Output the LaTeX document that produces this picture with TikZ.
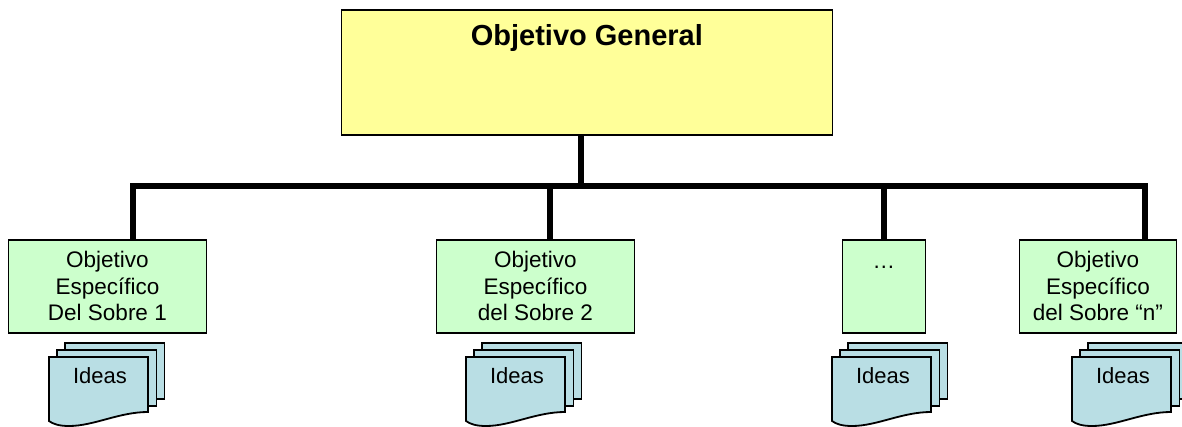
\documentclass[tikz,border=0pt]{standalone}
\usepackage{fontspec}
\setmainfont{Liberation Sans}
\definecolor{genyellow}{HTML}{FFFF99}
\definecolor{espgreen}{HTML}{CCFFCC}
\definecolor{ideablue}{HTML}{B9DEE4}
\tikzset{
  genbox/.style={draw,fill=genyellow,line width=1.8pt,anchor=north west,inner sep=0pt,
    minimum width=491pt,font=\fontsize{29}{32}\selectfont\bfseries,text height=36pt,text depth=89pt},
  espbox/.style={draw,fill=espgreen,line width=1.8pt,anchor=north west,inner sep=0pt,
    minimum height=93pt,align=center,font=\fontsize{22.5}{26.5}\selectfont},
  bus/.style={line width=6pt},
  sheet/.style={draw,fill=ideablue,line width=1.8pt},
  idea/.style={font=\fontsize{22}{26}\selectfont,inner sep=0pt}
}
\begin{document}
\begin{tikzpicture}[x=1pt,y=-1pt]
    \useasboundingbox (0,0) rectangle (1182,427);

    \node[genbox] (gen) at (340.5,9) {Objetivo General};

    \node[espbox,minimum width=198pt] (esp1) at (7.5,239) {Objetivo\\Específico\\Del Sobre 1};
    \node[espbox,minimum width=198pt] (esp2) at (435.5,239) {Objetivo\\Específico\\del Sobre 2};
    \node[espbox,minimum width=83pt,text height=29pt,text depth=64pt] (esp3) at (841.5,239) {…};
    \node[espbox,minimum width=157pt] (esp4) at (1018.5,239) {Objetivo\\Específico\\del Sobre “n”};

    % the bus
    \coordinate (busl) at (133,186);
    \coordinate (busr) at (1145,186);
    \coordinate (busg) at (581,186);
    \coordinate (bus2) at (550,186);
    \coordinate (bus3) at (884,186);
    \draw[bus] (gen.south -| busg) -- (busg);
    \draw[bus,line cap=rect] (busl) -- (busr);
    \draw[bus] (busl) -- (busl |- esp1.north);
    \draw[bus] (bus2) -- (bus2 |- esp2.north);
    \draw[bus] (bus3) -- (bus3 |- esp3.north);
    \draw[bus] (busr) -- (busr |- esp4.north);

    % the stacks of ideas
    \foreach \x/\n in {49/1,466/2,832/3,1072/4} {
      \begin{scope}[shift={(\x,0)}]
        \draw[sheet] (16,343) rectangle (115.5,399);
        \draw[sheet] (8,350) rectangle (107.5,406);
        \draw[sheet] (0,357) -- (99,357) -- (99,412)
          .. controls (70,412) and (45,426) .. (20,426)
          .. controls (10,426) and (4,424) .. (0,421) -- cycle;
        \node[idea] (idea\n) at (51,376) {Ideas};
      \end{scope}
    }

\end{tikzpicture}
\end{document}
